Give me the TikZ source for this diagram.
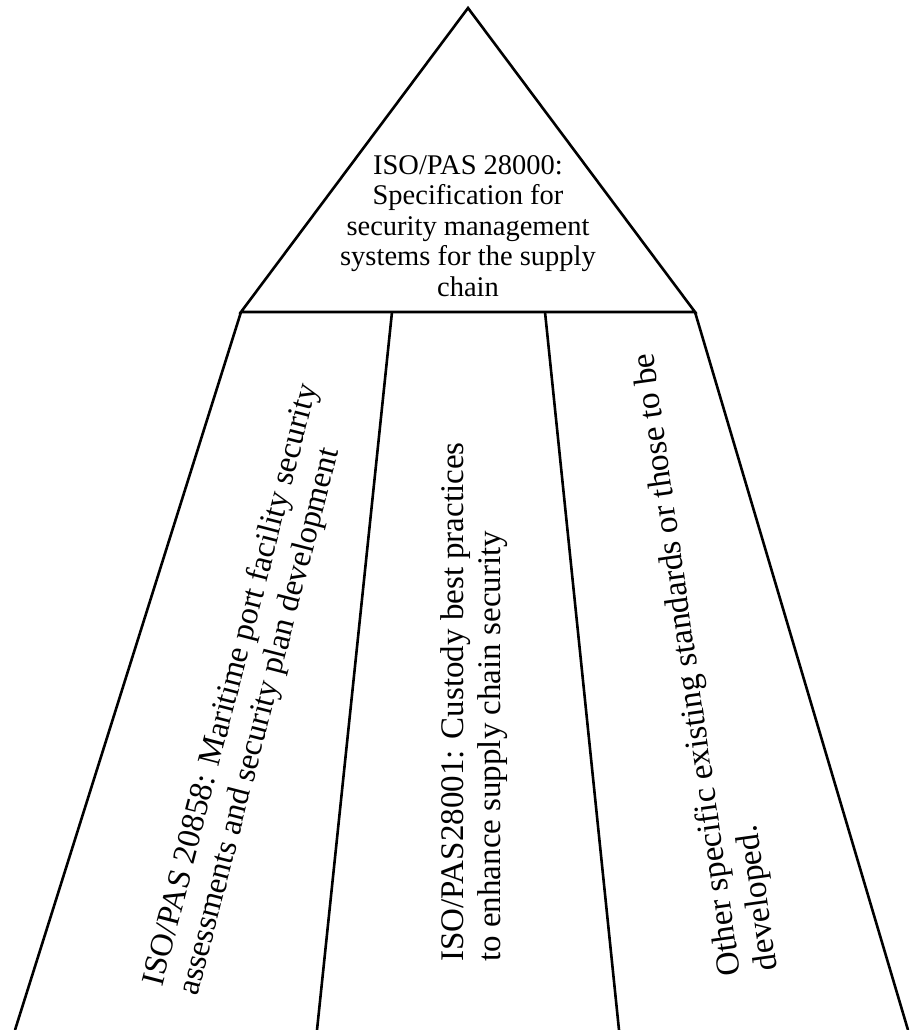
\documentclass[tikz,border=0pt]{standalone}
\usepackage{fontspec}
\setmainfont{Liberation Serif}
\usetikzlibrary{calc,positioning}
\tikzstyle{heading}=[align=center,inner sep=0pt,font=\fontsize{28.5}{30.5}\selectfont]
\tikzstyle{branch}=[align=left,inner sep=0pt,anchor=north west,font=\fontsize{32.5}{37}\selectfont]

\begin{document}
\begin{tikzpicture}[x=1pt,y=-1pt,line width=2.6pt]
\useasboundingbox (0,0) rectangle (911,1030);
% pyramid top and the four legs
\coordinate (apex) at (468,8);
\coordinate (tl) at (241,312);
\coordinate (d1) at (392,312);
\coordinate (d2) at (545,312);
\coordinate (tr) at (695,312);
\coordinate (bl) at (15,1030);
\coordinate (b1) at (317,1030);
\coordinate (b2) at (619,1030);
\coordinate (br) at (908,1030);
\draw (apex) -- (tr) -- (tl) -- cycle;
\draw (tl) -- (bl);
\draw (d1) -- (b1);
\draw (d2) -- (b2);
\draw (tr) -- (br);
% texts
\draw (468,298) node [heading,anchor=south] (top) {ISO/PAS 28000:\\ Specification for\\ security management\\ systems for the supply\\ chain};
\draw (138.3,982.4) node [branch,rotate=75.5] (left) {ISO/PAS 20858: Maritime port facility security\\ assessments and security plan development};
\draw (439,963) node [branch,rotate=90,font=\fontsize{33}{37}\selectfont] (middle) {ISO/PAS28001: Custody best practices\\ to enhance supply chain security};
\draw (716,979) node [branch,rotate=98,font=\fontsize{33.5}{37}\selectfont] (right) {Other specific existing standards or those to be\\ developed.};
\end{tikzpicture}
\end{document}
